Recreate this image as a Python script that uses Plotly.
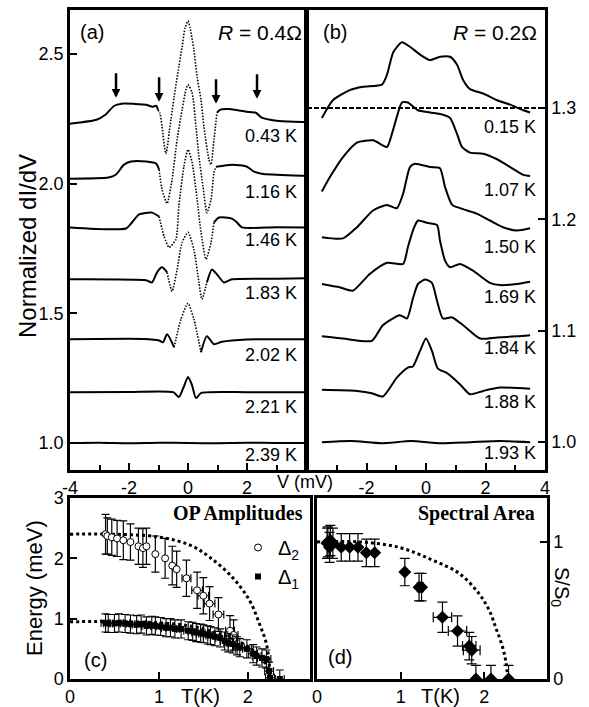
import plotly.graph_objects as go

FONT = "Liberation Sans, Arial, sans-serif"
SERIF = "Liberation Serif, Times New Roman, serif"

# ---------------- Panel (a): R = 0.4 ohm, normalized dI/dV (offset curves) ----------------
TEMPS_A = ["0.43 K", "1.16 K", "1.46 K", "1.83 K", "2.02 K", "2.21 K", "2.39 K"]
VA1 = [-4.0, -3.1, -2.8, -2.5, -2.25, -1.8, -1.42, -1.2, -1.08, -1.02, -0.95, -0.88, -0.75, -0.58, -0.47, -0.31, -0.2, -0.1, 0.0, 0.07, 0.2, 0.31, 0.44, 0.54, 0.71, 0.78, 0.88, 0.98, 1.1, 1.4, 1.97, 2.3, 2.5, 3.0, 3.6, 4.0]
YA1 = [2.231, 2.246, 2.265, 2.300, 2.308, 2.307, 2.304, 2.296, 2.300, 2.285, 2.270, 2.219, 2.115, 2.246, 2.335, 2.450, 2.527, 2.600, 2.627, 2.600, 2.515, 2.410, 2.323, 2.219, 2.092, 2.073, 2.169, 2.273, 2.285, 2.287, 2.277, 2.273, 2.254, 2.242, 2.238, 2.237]
VA2 = [-4.0, -2.7, -2.44, -2.17, -1.93, -1.42, -1.08, -0.98, -0.88, -0.71, -0.54, -0.37, -0.2, -0.07, 0.0, 0.14, 0.27, 0.37, 0.51, 0.64, 0.78, 0.88, 0.95, 1.5, 2.0, 2.24, 2.5, 3.6, 4.0]
YA2 = [2.019, 2.023, 2.035, 2.073, 2.085, 2.085, 2.077, 2.054, 1.977, 1.923, 2.015, 2.169, 2.285, 2.362, 2.381, 2.350, 2.219, 2.104, 1.988, 1.888, 1.938, 2.042, 2.065, 2.073, 2.065, 2.046, 2.038, 2.031, 2.030]
VA3 = [-4.0, -2.1, -1.9, -1.66, -1.22, -0.98, -0.81, -0.64, -0.41, -0.31, -0.14, 0.0, 0.14, 0.31, 0.44, 0.61, 0.78, 0.88, 1.05, 1.49, 1.66, 1.83, 3.0, 4.0]
YA3 = [1.831, 1.827, 1.850, 1.881, 1.888, 1.873, 1.796, 1.754, 1.785, 1.912, 2.065, 2.131, 2.081, 1.938, 1.812, 1.708, 1.773, 1.850, 1.869, 1.865, 1.850, 1.831, 1.832, 1.831]
VA4 = [-4.0, -1.42, -1.22, -1.05, -0.88, -0.71, -0.54, -0.37, -0.2, 0.0, 0.2, 0.37, 0.47, 0.64, 0.81, 0.98, 1.22, 1.49, 3.0, 4.0]
YA4 = [1.631, 1.627, 1.619, 1.658, 1.677, 1.658, 1.585, 1.669, 1.773, 1.812, 1.746, 1.619, 1.554, 1.619, 1.669, 1.650, 1.619, 1.631, 1.633, 1.635]
VA5 = [-4.0, -1.5, -0.98, -0.85, -0.71, -0.47, -0.24, 0.0, 0.2, 0.44, 0.64, 0.88, 1.15, 2.0, 4.0]
YA5 = [1.400, 1.401, 1.395, 1.388, 1.419, 1.369, 1.477, 1.538, 1.477, 1.350, 1.412, 1.381, 1.390, 1.399, 1.400]
VA6 = [-4.0, -2.0, -0.5, -0.31, -0.15, 0.0, 0.13, 0.27, 0.45, 2.0, 4.0]
YA6 = [1.196, 1.197, 1.196, 1.177, 1.215, 1.254, 1.225, 1.173, 1.193, 1.196, 1.196]
VA7 = [-4.0, -3.0, -2.0, -1.0, 0.0, 1.0, 2.0, 3.0, 4.0]
YA7 = [1.000, 1.001, 0.999, 1.001, 1.000, 0.999, 1.001, 1.000, 1.000]
ARROW_V = [-2.44, -0.98, 0.95, 2.34]
ARROW_TIP = [2.331, 2.315, 2.308, 2.327]

# ---------------- Panel (b): R = 0.2 ohm ----------------
TEMPS_B = ["0.15 K", "1.07 K", "1.50 K", "1.69 K", "1.84 K", "1.88 K", "1.93 K"]
VB1 = [-3.5, -3.13, -2.56, -2.12, -1.48, -1.31, -1.1, -0.81, -0.54, -0.2, 0.13, 0.47, 0.81, 1.04, 1.25, 1.48, 1.92, 2.39, 2.83, 3.27, 3.5]
YB1 = [1.291, 1.307, 1.316, 1.319, 1.321, 1.330, 1.350, 1.359, 1.355, 1.348, 1.343, 1.346, 1.346, 1.339, 1.325, 1.317, 1.313, 1.307, 1.303, 1.298, 1.296]
VB2 = [-3.5, -3.23, -2.79, -2.32, -1.78, -1.31, -1.21, -0.98, -0.81, -0.61, -0.27, 0.13, 0.57, 0.81, 1.04, 1.21, 1.48, 1.92, 2.39, 2.83, 3.27, 3.5]
YB2 = [1.225, 1.238, 1.256, 1.269, 1.271, 1.265, 1.271, 1.292, 1.305, 1.305, 1.298, 1.296, 1.294, 1.291, 1.277, 1.265, 1.260, 1.259, 1.254, 1.247, 1.240, 1.239]
VB3 = [-3.5, -2.79, -2.32, -1.78, -1.31, -0.98, -0.77, -0.54, -0.37, 0.13, 0.47, 0.64, 0.88, 1.04, 1.38, 1.72, 2.15, 2.59, 3.06, 3.5]
YB3 = [1.184, 1.183, 1.193, 1.208, 1.213, 1.210, 1.223, 1.247, 1.250, 1.247, 1.246, 1.229, 1.213, 1.211, 1.208, 1.205, 1.199, 1.193, 1.190, 1.192]
VB4 = [-3.5, -2.9, -2.46, -1.89, -1.31, -0.77, -0.61, -0.44, -0.27, 0.03, 0.37, 0.47, 0.64, 0.81, 1.14, 1.58, 2.15, 2.49, 3.06, 3.5]
YB4 = [1.142, 1.139, 1.136, 1.151, 1.161, 1.160, 1.175, 1.190, 1.199, 1.197, 1.195, 1.181, 1.163, 1.157, 1.160, 1.154, 1.143, 1.141, 1.142, 1.144]
VB5 = [-3.5, -2.79, -1.82, -1.45, -0.88, -0.64, -0.44, -0.27, -0.03, 0.2, 0.37, 0.57, 0.88, 1.25, 1.82, 2.39, 3.06, 3.5]
YB5 = [1.095, 1.093, 1.091, 1.105, 1.114, 1.111, 1.129, 1.142, 1.146, 1.143, 1.127, 1.111, 1.112, 1.105, 1.093, 1.094, 1.095, 1.096]
VB6 = [-3.5, -2.32, -1.82, -1.45, -0.98, -0.61, -0.44, -0.2, 0.0, 0.2, 0.4, 0.71, 1.14, 1.48, 1.92, 2.49, 3.5]
YB6 = [1.047, 1.046, 1.044, 1.041, 1.058, 1.067, 1.068, 1.082, 1.093, 1.082, 1.066, 1.062, 1.052, 1.043, 1.046, 1.049, 1.048]
VB7 = [-3.5, -2.5, -1.5, -0.5, 0.5, 1.5, 2.5, 3.5]
YB7 = [1.000, 1.001, 0.999, 1.001, 0.999, 1.000, 1.001, 1.000]
REF_LEVEL_B = 1.3

# ---------------- Panel (c): OP amplitudes ----------------
T_D2 = [0.40, 0.42, 0.47, 0.53, 0.60, 0.68, 0.77, 0.82, 0.86, 0.96, 1.07, 1.15, 1.20, 1.31, 1.43, 1.50, 1.57, 1.67, 1.80, 1.84]
E_D2 = [2.40, 2.37, 2.35, 2.33, 2.30, 2.27, 2.20, 2.17, 2.20, 2.07, 2.00, 1.88, 1.82, 1.67, 1.47, 1.38, 1.25, 1.07, 0.80, 0.73]
EERR_D2 = [0.33, 0.30, 0.30, 0.30, 0.32, 0.30, 0.30, 0.32, 0.30, 0.30, 0.33, 0.32, 0.30, 0.30, 0.30, 0.30, 0.28, 0.28, 0.25, 0.25]
TERR_D2 = [0, 0, 0, 0, 0, 0, 0, 0, 0, 0, 0, 0, 0, 0.05, 0.06, 0.06, 0.06, 0.06, 0.05, 0.05]
T_D1 = [0.40, 0.43, 0.50, 0.55, 0.62, 0.68, 0.75, 0.80, 0.86, 0.92, 0.96, 1.02, 1.08, 1.13, 1.18, 1.25, 1.33, 1.38, 1.42, 1.47, 1.50, 1.55, 1.58, 1.63, 1.69, 1.74, 1.78, 1.83, 1.88, 1.91, 1.99, 2.06, 2.10, 2.16, 2.21, 2.24, 2.25, 2.36]
E_D1 = [0.93, 0.92, 0.92, 0.93, 0.92, 0.91, 0.90, 0.91, 0.88, 0.89, 0.88, 0.87, 0.85, 0.85, 0.83, 0.83, 0.80, 0.79, 0.77, 0.76, 0.75, 0.73, 0.72, 0.70, 0.68, 0.63, 0.60, 0.58, 0.55, 0.52, 0.50, 0.42, 0.38, 0.35, 0.33, 0.13, 0.02, 0.00]
EERR_D1 = [0.15] * 38
TERR_D1 = [0.05] * 38
T_FIT2 = [0.0, 0.5, 1.01, 1.35, 1.57, 1.83, 2.02, 2.13, 2.21, 2.25, 2.26]
E_FIT2 = [2.40, 2.40, 2.35, 2.22, 2.02, 1.68, 1.30, 0.92, 0.58, 0.13, 0.00]
T_FIT1 = [0.0, 0.5, 1.01, 1.35, 1.57, 1.83, 2.02, 2.13, 2.21, 2.25, 2.26]
E_FIT1 = [0.95, 0.95, 0.93, 0.88, 0.80, 0.67, 0.52, 0.37, 0.23, 0.05, 0.00]

# ---------------- Panel (d): spectral area ----------------
T_S = [0.12, 0.13, 0.15, 0.16, 0.19, 0.29, 0.39, 0.49, 0.59, 0.69, 1.05, 1.22, 1.25, 1.50, 1.68, 1.82, 1.85, 1.90, 2.08, 2.29]
S_S = [0.99, 1.00, 0.96, 1.01, 0.99, 0.96, 0.96, 0.96, 0.92, 0.92, 0.78, 0.67, 0.67, 0.45, 0.35, 0.24, 0.21, 0.00, 0.00, 0.00]
SERR_S = [0.11, 0.11, 0.11, 0.11, 0.11, 0.10, 0.10, 0.10, 0.10, 0.10, 0.10, 0.10, 0.10, 0.11, 0.11, 0.10, 0.10, 0.10, 0.10, 0.10]
TERR_S = [0, 0, 0, 0, 0, 0, 0, 0, 0, 0, 0, 0.02, 0.02, 0.11, 0.11, 0.08, 0.10, 0, 0, 0]
T_FITS = [0.0, 0.5, 0.98, 1.37, 1.70, 1.94, 2.06, 2.14, 2.22, 2.26, 2.28]
S_FITS = [1.00, 1.00, 0.96, 0.87, 0.77, 0.62, 0.50, 0.37, 0.23, 0.12, 0.00]

# ---------------- styles ----------------
DOTTED_SPAN_A = [(-1.02, 0.98), (-0.98, 0.95), (-0.98, 0.88), (-0.71, 0.64), (-0.47, 0.44), None, None]

W, H = 589, 707
def px(x): return x / W
def py(y): return 1 - y / H

fig = go.Figure()

curves_a = [(VA1, YA1), (VA2, YA2), (VA3, YA3), (VA4, YA4), (VA5, YA5), (VA6, YA6), (VA7, YA7)]
for (v, y), span in zip(curves_a, DOTTED_SPAN_A):
    if span is None:
        fig.add_trace(go.Scatter(x=v, y=y, mode="lines", line=dict(color="black", width=2, shape="spline", smoothing=0.6),
                                 xaxis="x", yaxis="y", showlegend=False, hoverinfo="skip"))
        continue
    lo, hi = span
    sx, sy, dx, dy = [], [], [], []
    gap_done = False
    for vi, yi in zip(v, y):
        if vi <= lo or vi >= hi:
            if vi >= hi and not gap_done:
                sx.append(None); sy.append(None); gap_done = True
            sx.append(vi); sy.append(yi)
        if lo <= vi <= hi:
            dx.append(vi); dy.append(yi)
    fig.add_trace(go.Scatter(x=sx, y=sy, mode="lines", line=dict(color="black", width=2, shape="spline", smoothing=0.6),
                             connectgaps=False, xaxis="x", yaxis="y", showlegend=False, hoverinfo="skip"))
    fig.add_trace(go.Scatter(x=dx, y=dy, mode="lines", line=dict(color="black", width=1.6, shape="spline", smoothing=0.6, dash="1.5px,1.5px"),
                             xaxis="x", yaxis="y", showlegend=False, hoverinfo="skip"))

curves_b = [(VB1, YB1), (VB2, YB2), (VB3, YB3), (VB4, YB4), (VB5, YB5), (VB6, YB6), (VB7, YB7)]
for v, y in curves_b:
    fig.add_trace(go.Scatter(x=v, y=y, mode="lines", line=dict(color="black", width=2, shape="spline", smoothing=0.6),
                             xaxis="x2", yaxis="y2", showlegend=False, hoverinfo="skip"))
fig.add_trace(go.Scatter(x=[-4, 4], y=[REF_LEVEL_B, REF_LEVEL_B], mode="lines",
                         line=dict(color="black", width=2, dash="5px,2px"), xaxis="x2", yaxis="y2",
                         showlegend=False, hoverinfo="skip"))

# panel c
fig.add_trace(go.Scatter(x=T_FIT2, y=E_FIT2, mode="lines", line=dict(color="black", width=3, dash="3px,3px", shape="spline"),
                         xaxis="x3", yaxis="y3", showlegend=False, hoverinfo="skip"))
fig.add_trace(go.Scatter(x=T_FIT1, y=E_FIT1, mode="lines", line=dict(color="black", width=3, dash="3px,3px", shape="spline"),
                         xaxis="x3", yaxis="y3", showlegend=False, hoverinfo="skip"))
fig.add_trace(go.Scatter(x=T_D2, y=E_D2, mode="markers", name="Δ<sub>2</sub>",
                         marker=dict(symbol="circle", size=7, color="white", line=dict(color="black", width=1)),
                         error_y=dict(type="data", array=EERR_D2, color="black", thickness=1.2, width=4),
                         error_x=dict(type="data", array=TERR_D2, color="black", thickness=1.2, width=4),
                         xaxis="x3", yaxis="y3"))
fig.add_trace(go.Scatter(x=T_D1, y=E_D1, mode="markers", name="Δ<sub>1</sub>",
                         marker=dict(symbol="square", size=6, color="black"),
                         error_y=dict(type="data", array=EERR_D1, color="black", thickness=1.1, width=4),
                         error_x=dict(type="data", array=TERR_D1, color="black", thickness=1.1, width=4),
                         xaxis="x3", yaxis="y3"))

# panel d
fig.add_trace(go.Scatter(x=T_FITS, y=S_FITS, mode="lines", line=dict(color="black", width=3, dash="3px,3px", shape="spline"),
                         xaxis="x4", yaxis="y4", showlegend=False, hoverinfo="skip"))
fig.add_trace(go.Scatter(x=T_S, y=S_S, mode="markers", showlegend=False,
                         marker=dict(symbol="diamond", size=10, color="black"),
                         error_y=dict(type="data", array=SERR_S, color="black", thickness=1.2, width=5),
                         error_x=dict(type="data", array=TERR_S, color="black", thickness=1.2, width=5),
                         xaxis="x4", yaxis="y4"))

TICKFONT = dict(family=FONT, size=18, color="black")
base = dict(showline=True, linecolor="black", linewidth=2.5, mirror=True, ticks="inside", tickcolor="black",
            tickwidth=2, ticklen=7, showgrid=False, zeroline=False, tickfont=TICKFONT, fixedrange=True,
            automargin=False)

fig.update_layout(
    width=W, height=H, margin=dict(l=0, r=0, t=0, b=0, pad=0), autosize=False,
    paper_bgcolor="white", plot_bgcolor="white",
    xaxis=dict(base, domain=[px(70), px(306)], range=[-4, 4], anchor="y", tickvals=[-4, -2, 0, 2],
               ticktext=["-4", "-2", "0", "2"],
               minor=dict(tickvals=[-3, -1, 1, 3], ticklen=5, ticks="inside", tickcolor="black", tickwidth=2)),
    yaxis=dict(base, domain=[py(470), py(10)], range=[0.896, 2.669], anchor="x",
               tickvals=[1.0, 1.5, 2.0, 2.5], ticktext=["1.0", "1.5", "2.0", "2.5"]),
    xaxis2=dict(base, domain=[px(307), px(545)], range=[-4, 4], anchor="y2", tickvals=[-2, 0, 2, 4],
                ticktext=["-2", "0", "2", "4"],
                minor=dict(tickvals=[-3, -1, 1, 3], ticklen=5, ticks="inside", tickcolor="black", tickwidth=2)),
    yaxis2=dict(base, domain=[py(470), py(10)], range=[0.975, 1.388], anchor="x2", side="right",
                tickvals=[1.0, 1.1, 1.2, 1.3], ticktext=["1.0", "1.1", "1.2", "1.3"]),
    xaxis3=dict(base, domain=[px(70), px(310)], range=[0, 2.7], anchor="y3", tickvals=[0, 1, 2]),
    yaxis3=dict(base, domain=[py(679), py(498)], range=[0, 3], anchor="x3", tickvals=[0, 1, 2, 3]),
    xaxis4=dict(base, domain=[px(317), px(547)], range=[0, 2.75], anchor="y4", tickvals=[0, 1, 2]),
    yaxis4=dict(base, domain=[py(679), py(498)], range=[0, 1.32], anchor="x4", side="right", tickvals=[0, 1]),
    legend=dict(x=px(238), y=py(528), xanchor="left", yanchor="top", bgcolor="rgba(0,0,0,0)",
                font=dict(family=FONT, size=20, color="black"), itemwidth=30, tracegroupgap=0),
)

ann = []
def text(x, y, s, size=18, xanchor="center", yanchor="middle", family=FONT, angle=0):
    ann.append(dict(x=px(x), y=py(y), xref="paper", yref="paper", text=s, showarrow=False,
                    xanchor=xanchor, yanchor=yanchor, textangle=angle,
                    font=dict(family=family, size=size, color="black")))

LABEL_Y_A = [136, 192, 240, 293, 355, 407, 455]
LABEL_Y_B = [127, 190, 247, 297, 348, 402, 453]
for t, yy in zip(TEMPS_A, LABEL_Y_A):
    text(299, yy, t, xanchor="right")
for t, yy in zip(TEMPS_B, LABEL_Y_B):
    text(538, yy, t, xanchor="right")

text(78, 32, "(a)", size=20, xanchor="left")
text(321, 32, "(b)", size=20, xanchor="left")
text(304, 32, "<i>R</i> = 0.4Ω", size=21, xanchor="right")
text(539, 32, "<i>R</i> = 0.2Ω", size=21, xanchor="right")
text(27, 246, "Normalized dI/dV", size=24, angle=-90)
text(34, 588, "Energy (meV)", size=22, angle=-90)
text(561, 587, "S/S<sub>0</sub>", size=20, angle=90)
text(305, 482, "V (mV)", size=18)
text(305, 513, "<b>OP Amplitudes</b>", size=20, xanchor="right", family=SERIF)
text(537, 513, "<b>Spectral Area</b>", size=20, xanchor="right", family=SERIF)
text(95, 660, "(c)", size=20)
text(340, 657, "(d)", size=20)
text(200, 696, "T(K)", size=20)
text(440, 696, "T(K)", size=20)

for v, tip in zip(ARROW_V, ARROW_TIP):
    ann.append(dict(x=v, y=tip, xref="x", yref="y", text="", showarrow=True, ax=0, ay=-26,
                    arrowhead=2, arrowsize=0.7, arrowwidth=2.5, arrowcolor="black"))

fig.update_layout(annotations=ann)
fig.write_html("out.html", config={"displayModeBar": False},
               post_script="document.body.style.margin='0';document.body.style.padding='0';"
                           "document.documentElement.style.overflow='hidden';")
